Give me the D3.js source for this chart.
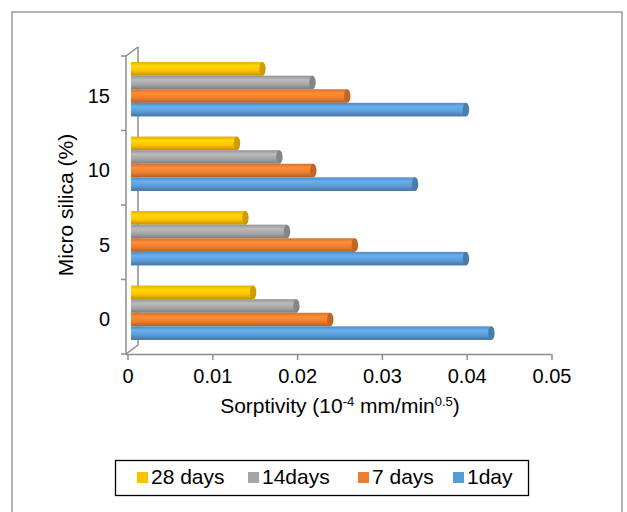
<!DOCTYPE html>
<html>
<head>
<meta charset="utf-8">
<script src="https://cdn.jsdelivr.net/npm/d3@7"></script>
<style>
  body { margin: 0; background: #fff; }
  text { font-family: "Liberation Sans", Arial, sans-serif; fill: #000; }
</style>
</head>
<body>
<svg id="chart" width="627" height="512"></svg>
<script>
// data
const categories = ["15", "10", "5", "0"]
const seriesNames = ["28 days", "14days", "7 days", "1day"]
const seriesColors = ["#FFC000", "#A5A5A5", "#ED7D31", "#5B9BD5"]
const days28 = [0.0155, 0.0125, 0.0135, 0.0144]
const days14 = [0.0214, 0.0175, 0.0184, 0.0195]
const days7 = [0.0255, 0.0215, 0.0264, 0.0235]
const day1 = [0.0395, 0.0335, 0.0395, 0.0425]
const xTicks = [0, 0.01, 0.02, 0.03, 0.04, 0.05]

const svg = d3.select("#chart")

// outer frame
svg.append("rect")
    .attr("x", 12).attr("y", 12)
    .attr("width", 610).attr("height", 520)
    .attr("fill", "none").attr("stroke", "#999").attr("stroke-width", 1.5)

const x = d3.scaleLinear().domain([0, 0.05]).range([127.5, 551.5])
const y = d3.scaleBand().domain(categories).range([56, 354]).paddingInner(0.27).paddingOuter(0.135)
const inner = d3.scaleBand().domain(seriesNames).range([0, y.bandwidth()])
const color = d3.scaleOrdinal().domain(seriesNames).range(seriesColors)

const data = categories.map((c, i) => ({
    cat: c,
    values: [days28[i], days14[i], days7[i], day1[i]].map((v, j) => ({ name: seriesNames[j], value: v }))
}))

// 3d depth offset
const dx = 12, dy = -9
const bx = 3.5, by = -4

// gradients for the cylinder look
const defs = svg.append("defs")
seriesNames.forEach((name, i) => {
    const c = d3.color(seriesColors[i])
    const g = defs.append("linearGradient")
        .attr("id", "grad" + i)
        .attr("x1", 0).attr("y1", 0).attr("x2", 0).attr("y2", 1)
    g.append("stop").attr("offset", "0%").attr("stop-color", c.darker(0.3))
    g.append("stop").attr("offset", "30%").attr("stop-color", c.brighter(0.35))
    g.append("stop").attr("offset", "65%").attr("stop-color", c)
    g.append("stop").attr("offset", "100%").attr("stop-color", c.darker(0.8))
})

// axes lines (front + back wall)
const axisColor = "#8c8c8c"
const left = x(0) - 1.5
svg.append("line")
    .attr("x1", left).attr("x2", left).attr("y1", 56).attr("y2", 354)
    .attr("stroke", axisColor).attr("stroke-width", 1.5)
svg.append("line")
    .attr("x1", left + dx).attr("x2", left + dx).attr("y1", 56 + dy).attr("y2", 354 + dy)
    .attr("stroke", axisColor).attr("stroke-width", 1.5)
svg.append("line")
    .attr("x1", left).attr("y1", 56).attr("x2", left + dx).attr("y2", 56 + dy)
    .attr("stroke", axisColor).attr("stroke-width", 1.5)
svg.append("line")
    .attr("x1", left).attr("y1", 354).attr("x2", left + dx).attr("y2", 354 + dy)
    .attr("stroke", axisColor).attr("stroke-width", 1.5)

// y ticks at category boundaries
const step = y.step()
svg.selectAll(".ytick")
    .data(d3.range(categories.length + 1))
    .enter().append("line")
    .attr("x1", left - 5).attr("x2", left)
    .attr("y1", i => 56 + i * step).attr("y2", i => 56 + i * step)
    .attr("stroke", axisColor).attr("stroke-width", 1.5)

// x axis
const xAxis = svg.append("g")
    .attr("transform", "translate(0,354)")
    .call(d3.axisBottom(x).tickValues(xTicks).tickSize(6).tickPadding(9)
        .tickFormat(d => d === 0 ? "0" : d3.format(".2f")(d)))
xAxis.select(".domain").attr("stroke", axisColor).attr("stroke-width", 1.5)
    .attr("d", "M" + left + ",0.5H" + x(0.05))
xAxis.selectAll(".tick line").attr("stroke", axisColor).attr("stroke-width", 1.5)
xAxis.selectAll(".tick text")
    .style("font-family", '"Liberation Sans", Arial, sans-serif')
    .style("font-size", "20px").attr("fill", "#000")

// y labels
svg.selectAll(".ylabel")
    .data(categories)
    .enter().append("text")
    .attr("x", 110)
    .attr("y", d => y(d) + y.bandwidth() / 2 + 4)
    .attr("text-anchor", "end")
    .attr("dominant-baseline", "middle")
    .style("font-size", "20px")
    .text(d => d)

// bars
const groups = svg.selectAll(".grp")
    .data(data)
    .enter().append("g")
    .attr("transform", d => `translate(${bx},${y(d.cat) + by})`)

groups.selectAll("g")
    .data(d => d.values)
    .enter().append("g")
    .each(function (d) {
        const g = d3.select(this)
        const i = seriesNames.indexOf(d.name)
        const h = inner.bandwidth()
        const y0 = inner(d.name)
        const x1 = x(d.value)
        g.append("rect")
            .attr("x", x(0)).attr("y", y0)
            .attr("width", x1 - x(0)).attr("height", h)
            .attr("fill", `url(#grad${i})`)
        g.append("ellipse")
            .attr("cx", x1).attr("cy", y0 + h / 2)
            .attr("rx", 3.2).attr("ry", h / 2)
            .attr("fill", d3.color(seriesColors[i]).darker(0.6))
    })

// axis titles
const xt = svg.append("text")
    .attr("x", 340).attr("y", 413)
    .attr("text-anchor", "middle")
    .style("font-size", "21px")
xt.append("tspan").text("Sorptivity (10")
xt.append("tspan").attr("dy", -7).style("font-size", "13px").text("-4")
xt.append("tspan").attr("dy", 7).text(" mm/min")
xt.append("tspan").attr("dy", -7).style("font-size", "13px").text("0.5")
xt.append("tspan").attr("dy", 7).text(")")

svg.append("text")
    .attr("transform", "translate(73,205) rotate(-90)")
    .attr("text-anchor", "middle")
    .style("font-size", "21px")
    .text("Micro silica (%)")

// legend
svg.append("rect")
    .attr("x", 115.5).attr("y", 460.5)
    .attr("width", 413).attr("height", 35)
    .attr("fill", "#fff").attr("stroke", "#000").attr("stroke-width", 1.3)

const legendX = [137, 248, 358, 453]
const legend = svg.selectAll(".leg")
    .data(seriesNames)
    .enter().append("g")
    .attr("transform", (d, i) => `translate(${legendX[i]},477)`)
legend.append("rect")
    .attr("x", 0).attr("y", -5).attr("width", 11).attr("height", 11)
    .attr("fill", d => color(d))
legend.append("text")
    .attr("x", 14).attr("y", 1)
    .attr("dominant-baseline", "middle")
    .style("font-size", "21px")
    .text(d => d)
</script>
</body>
</html>
